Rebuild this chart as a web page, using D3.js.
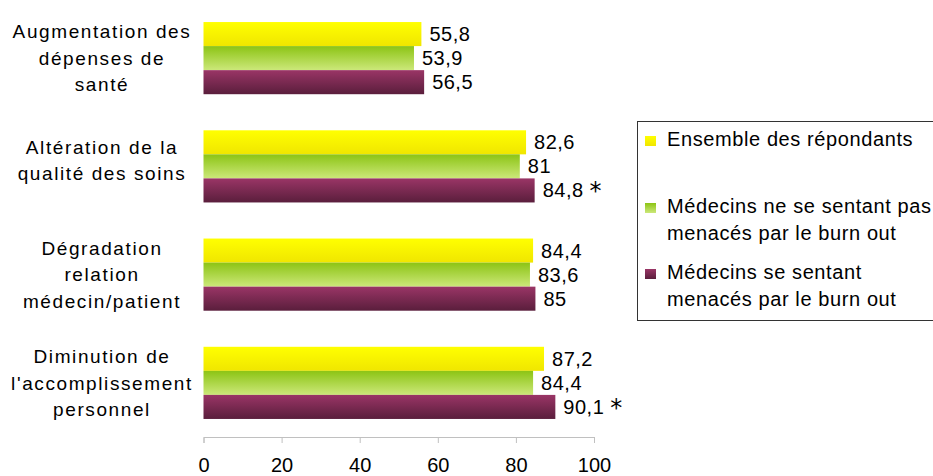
<!DOCTYPE html>
<html>
<head>
<meta charset="utf-8">
<script src="https://cdn.jsdelivr.net/npm/d3@7"></script>
<style>
  body { margin: 0; background: #fff; }
  text { font-family: "Liberation Sans", Arial, sans-serif; fill: #000; }
</style>
</head>
<body>
<div id="chart"></div>
<script>
  // categories (top to bottom), each label split into its lines
  var categories = [
    "Augmentation des dépenses de santé",
    "Altération de la qualité des soins",
    "Dégradation relation médecin/patient",
    "Diminution de l'accomplissement personnel"
  ];
  var categoryLines = [
    ["Augmentation des", "dépenses de", "santé"],
    ["Altération de la", "qualité des soins"],
    ["Dégradation", "relation", "médecin/patient"],
    ["Diminution de", "l'accomplissement", "personnel"]
  ];

  // series
  var seriesNames = [
    "Ensemble des répondants",
    "Médecins ne se sentant pas menacés par le burn out",
    "Médecins se sentant menacés par le burn out"
  ];
  var legendLines = [
    ["Ensemble des répondants"],
    ["Médecins ne se sentant pas", "menacés par le burn out"],
    ["Médecins se sentant", "menacés par le burn out"]
  ];
  var ensemble   = [55.8, 82.6, 84.4, 87.2];
  var nonMenaces = [53.9, 81, 83.6, 84.4];
  var menaces    = [56.5, 84.8, 85, 90.1];
  // significance marks on the "menacés" series
  var significant = [false, true, false, true];

  var xTicks = [0, 20, 40, 60, 80, 100];

  var W = 933, H = 476;

  var svg = d3.select("#chart").append("svg")
      .attr("width", W)
      .attr("height", H);

  // gradients for the bars
  var defs = svg.append("defs");
  var grads = [
    {id: "gYellow", top: "#ffff00", bottom: "#f0e600"},
    {id: "gGreen",  top: "#8cc414", bottom: "#cce87a"},
    {id: "gPurple", top: "#9a3566", bottom: "#5a1e3c"}
  ];
  grads.forEach(function(g) {
    var lg = defs.append("linearGradient")
        .attr("id", g.id)
        .attr("x1", 0).attr("y1", 0).attr("x2", 0).attr("y2", 1);
    lg.append("stop").attr("offset", "0%").attr("stop-color", g.top);
    lg.append("stop").attr("offset", "100%").attr("stop-color", g.bottom);
  });
  var fills = grads.map(function(g) { return "url(#" + g.id + ")"; });

  var values = [ensemble, nonMenaces, menaces];

  var x = d3.scaleLinear().domain([0, 100]).range([203.5, 594]);

  var y = d3.scaleBand()
      .domain(categories)
      .range([4, 437])
      .paddingInner(1 / 3)
      .paddingOuter(1 / 6);

  var ySub = d3.scaleBand()
      .domain(seriesNames)
      .range([0, y.bandwidth()]);

  // x axis
  var xAxis = svg.append("g")
      .attr("transform", "translate(0,437)")
      .call(d3.axisBottom(x).tickValues(xTicks).tickSize(6).tickPadding(15)
        .tickFormat(d3.format("d")));
  xAxis.select(".domain").attr("stroke", "#c0c0c0");
  xAxis.selectAll(".tick line").attr("stroke", "#c0c0c0");
  xAxis.selectAll(".tick text")
      .style("font-family", "'Liberation Sans', Arial, sans-serif")
      .style("font-size", "20px")
      .attr("fill", "#000");

  // bars
  var groups = svg.selectAll(".cat")
    .data(categories)
    .enter().append("g")
      .attr("class", "cat")
      .attr("transform", function(d) { return "translate(0," + y(d) + ")"; });

  groups.each(function(cat, ci) {
    var g = d3.select(this);
    seriesNames.forEach(function(s, si) {
      var v = values[si][ci];
      g.append("rect")
        .attr("x", x(0))
        .attr("y", ySub(s))
        .attr("width", x(v) - x(0))
        .attr("height", ySub.bandwidth())
        .attr("fill", fills[si]);

      var t = g.append("text")
        .attr("x", x(v) + 8)
        .attr("y", ySub(s) + ySub.bandwidth() / 2)
        .attr("dy", "0.35em")
        .style("font-size", "20px")
        .style("letter-spacing", "0.5px")
        .text(String(v).replace(".", ","));
      if (si === 2 && significant[ci]) {
        t.append("tspan")
          .attr("dx", 6)
          .attr("dy", 2)
          .style("font-family", "'DejaVu Sans', sans-serif")
          .style("font-size", "24px")
          .text("*");
      }
    });

    // category label
    var lines = categoryLines[ci];
    var lh = 26.5;
    var cy = y.bandwidth() / 2 + (lines.length === 2 ? -6 : 0);
    var lab = g.append("text")
      .attr("text-anchor", "middle")
      .style("font-size", "19px")
      .style("letter-spacing", "1.6px");
    lines.forEach(function(l, li) {
      lab.append("tspan")
        .attr("x", 102)
        .attr("y", cy + (li - (lines.length - 1) / 2) * lh)
        .attr("dy", "0.35em")
        .text(l);
    });
  });

  // legend
  var legend = svg.append("g");
  legend.append("rect")
    .attr("x", 637.5).attr("y", 121.5)
    .attr("width", 400).attr("height", 199)
    .attr("fill", "#fff")
    .attr("stroke", "#333")
    .attr("stroke-width", 1);

  var legendY = [139, 206, 272];
  legendLines.forEach(function(lines, i) {
    legend.append("rect")
      .attr("x", 645).attr("y", legendY[i] - 3)
      .attr("width", 11).attr("height", 10)
      .attr("fill", fills[i]);
    var t = legend.append("text")
      .style("font-size", "20px")
      .style("letter-spacing", "0.6px");
    lines.forEach(function(l, li) {
      t.append("tspan")
        .attr("x", 667)
        .attr("y", legendY[i] + li * 27)
        .attr("dy", "0.35em")
        .text(l);
    });
  });
</script>
</body>
</html>
